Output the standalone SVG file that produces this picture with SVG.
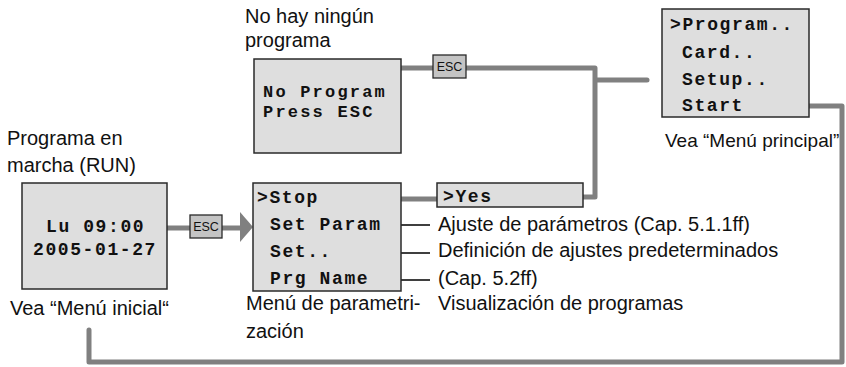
<svg xmlns="http://www.w3.org/2000/svg" width="846" height="367" viewBox="0 0 846 367">
<style>
.box{fill:#dedede;stroke:#2a2a2a;stroke-width:1.5}
.mono{font-family:"Liberation Mono","Courier New",monospace;font-weight:bold;font-size:18px;letter-spacing:1.6px;fill:#111}
.tight{font-size:17px;letter-spacing:2.2px}
.lbl{font-family:"Liberation Sans",Arial,sans-serif;font-size:20px;fill:#111}
.con{fill:none;stroke:#808080;stroke-width:5;stroke-linecap:round;stroke-linejoin:round}
.thin{fill:none;stroke:#000;stroke-width:1.5}
.esc{fill:#c4c4c4;stroke:#2a2a2a;stroke-width:1.3}
.esct{font-family:"Liberation Sans",Arial,sans-serif;font-size:12.5px;fill:#111;text-anchor:middle}
</style>
<g id="connectors">
<path class="con" d="M400,68 H595 V197 H583"/>
<path class="con" d="M597,80 H647"/>
<path class="con" d="M338,199 H437"/>
<path class="con" d="M757,106 H842 V362 H89 V330"/>
<path class="con" d="M167,228 H241" stroke-linecap="butt"/>
<polygon points="240,212 253,227 240,242" fill="#808080"/>
<path class="thin" d="M392,225 H430 M392,253 H430 M392,280 H430"/>
</g>
<g id="esc1"><rect class="esc" x="433" y="55" width="33" height="23"/><text class="esct" x="449.5" y="71">ESC</text></g>
<g id="esc2"><rect class="esc" x="190" y="215" width="32" height="23"/><text class="esct" x="206" y="231">ESC</text></g>
<g id="noprogram">
<text class="lbl" x="245" y="23">No hay ningún</text>
<text class="lbl" x="245" y="47">programa</text>
<rect class="box" x="254" y="59" width="147" height="94"/>
<text class="mono tight" x="263" y="97">No Program</text>
<text class="mono tight" x="263" y="117">Press ESC</text>
</g>
<g id="mainmenu">
<rect class="box" x="662" y="9" width="147" height="108"/>
<text class="mono" x="670" y="30">&gt;Program..</text>
<text class="mono" x="682" y="58">Card..</text>
<text class="mono" x="682" y="85">Setup..</text>
<text class="mono" x="682" y="111">Start</text>
<text class="lbl" x="665" y="147" style="font-size:19px">Vea “Menú principal”</text>
</g>
<g id="run">
<text class="lbl" x="7" y="145">Programa en</text>
<text class="lbl" x="7" y="172">marcha (RUN)</text>
<rect class="box" x="22" y="183" width="145" height="106"/>
<text class="mono" x="46" y="232">Lu 09:00</text>
<text class="mono" x="33" y="255">2005-01-27</text>
<text class="lbl" x="10" y="315">Vea “Menú inicial“</text>
</g>
<g id="parammenu">
<rect class="box" x="253" y="183" width="148" height="108"/>
<text class="mono" x="257" y="203">&gt;Stop</text>
<text class="mono" x="270" y="230">Set Param</text>
<text class="mono" x="270" y="257">Set..</text>
<text class="mono" x="270" y="284">Prg Name</text>
<text class="lbl" x="246" y="310">Menú de parametri-</text>
<text class="lbl" x="246" y="338">zación</text>
</g>
<g id="yes">
<rect class="box" x="437" y="183" width="146" height="24"/>
<text class="mono" x="443" y="202">&gt;Yes</text>
</g>
<g id="notes">
<text class="lbl" x="438" y="231">Ajuste de parámetros (Cap. 5.1.1ff)</text>
<text class="lbl" x="438" y="257">Definición de ajustes predeterminados</text>
<text class="lbl" x="438" y="285">(Cap. 5.2ff)</text>
<text class="lbl" x="438" y="310">Visualización de programas</text>
</g>
</svg>
